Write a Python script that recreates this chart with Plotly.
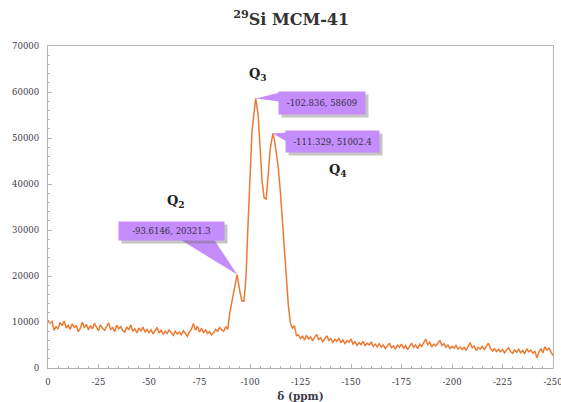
import numpy as np
import plotly.graph_objects as go

# Chemical shift grid (ppm), 1 ppm sampling with the three fitted peak maxima
shift = np.arange(0, -251, -1.0)
peak_shift = [-93.6146, -102.836, -111.329]
peak_intensity = [20321.3, 58609, 51002.4]
peak_index = [94, 103, 111]
for i, s in zip(peak_index, peak_shift):
    shift[i] = s

intensity = [
    10400, 9700, 10100, 8200, 9000, 8500, 9900, 9200, 10200, 8700,
    9300, 8400, 9600, 8800, 9300, 7900, 8600, 10000, 8700, 9500,
    8300, 9200, 8500, 9700, 8900, 8100, 9400, 8600, 8200, 9100,
    9800, 8400, 8800, 7900, 9300, 8500, 9000, 8200, 7800, 8900,
    8300, 9400, 8000, 8500, 7600, 8700, 8100, 8900, 7800, 8400,
    7700, 8300, 7400, 8100, 8800, 7600, 8200, 7300, 8000, 7500,
    8300, 7700, 7100, 8000, 7400, 7800, 7200, 8100, 7600, 6900,
    7800, 8400, 9700, 8200, 9100, 7800, 8600, 7700, 8300, 7500,
    7900, 7200, 7700, 8400, 8000, 8800, 8300, 8000, 9000, 8400,
    12000, 14300, 16800, 19600, 20321.3, 16600, 14600, 14500, 19500, 31000,
    43500, 51500, 55500, 58609, 55200, 47500, 40500, 37000, 36700, 42000,
    47600, 51002.4, 49800, 46800, 43500, 38500, 32000, 25000, 18700, 13500,
    9800, 8600, 9200, 7000, 7200, 6400, 6900, 6100, 7100, 6300,
    6800, 5900, 6700, 7300, 6200, 6600, 5700, 6500, 7000, 6000,
    6400, 5600, 6200, 5800, 6500, 5500, 6100, 5300, 5900, 5600,
    6300, 5200, 5700, 4900, 5500, 5100, 5800, 4800, 5400, 5000,
    5700, 4700, 5200, 4600, 5300, 4500, 5000, 4200, 4900, 5400,
    4400, 4800, 4100, 5000, 4500, 5200, 4300, 4900, 4000, 4600,
    5400, 4500, 5000, 4200, 5200, 4700, 5500, 6300, 5100, 5600,
    4600, 5200, 4800, 5500, 6000, 4900, 5300, 4500, 5000, 4200,
    4700, 4300, 4900, 4100, 4600, 4000, 4500, 3900, 4800, 5500,
    4400, 4800, 3800, 4500, 4100, 4700, 4000, 4600, 5400, 4300,
    3700, 4200, 3600, 4100, 3500, 4000, 3300, 3900, 4400, 3600,
    3200, 3900, 3400, 4100, 3300, 3800, 3100, 4200, 3500, 3900,
    3200, 3700, 2200, 3400, 4200, 3300, 4600, 3900, 4300, 3500,
    2700,
]

peak_labels = ["Q<sub>2</sub>", "Q<sub>3</sub>", "Q<sub>4</sub>"]
# label positions (ppm, intensity) for the Q-site names
label_shift = [-63.4, -103.9, -143.6]
label_intensity = [36300, 63700, 43000]

x_ticks = [0, -25, -50, -75, -100, -125, -150, -175, -200, -225, -250]

SERIF = "DejaVu Serif"
LINE = "#ec7a33"
CALLOUT = "#c58cfb"
SHADOW = "rgba(110,110,110,0.40)"
FRAME = "#b4b4b4"
TEXT = "#3a3a48"

fig = go.Figure()
fig.add_trace(go.Scatter(
    x=shift, y=intensity, mode="lines",
    line=dict(color=LINE, width=1.5),
    hoverinfo="skip", showlegend=False,
))

# callout boxes: box-centre offset and inner size in px, wedge points in screen px relative to the peak
callouts = [
    dict(ax=-66, ay=-44, w=97, h=10, pad=4, wedge=[(-57, -35), (-23, -35)]),
    dict(ax=66, ay=5, w=76, h=12, pad=5, wedge=[(24, -6), (24, 3)]),
    dict(ax=60, ay=8, w=83, h=11, pad=5, wedge=[(14, -1), (14, 8)]),
]

shapes = []
annotations = []
for px, py, c in zip(peak_shift, peak_intensity, callouts):
    pts = [(0, 0)] + c["wedge"]
    path = "M" + " L".join(f"{dx},{-dy}" for dx, dy in pts) + " Z"
    shapes.append(dict(
        type="path", path=path, xref="x", yref="y",
        xsizemode="pixel", ysizemode="pixel", xanchor=px, yanchor=py,
        fillcolor=CALLOUT, line=dict(width=0), layer="above",
    ))
    common = dict(
        x=px, y=py, xref="x", yref="y",
        showarrow=True, arrowcolor="rgba(0,0,0,0)", arrowwidth=0.1,
        ax=c["ax"], ay=c["ay"], width=c["w"], height=c["h"], borderpad=c["pad"],
    )
    # soft drop shadow behind each box
    annotations.append(dict(common, text="\u00a0", bgcolor=SHADOW,
                            font=dict(family=SERIF, size=8.5), xshift=3, yshift=-3))
    annotations.append(dict(common, text=f"{px:g}, {py:g}", bgcolor=CALLOUT,
                            font=dict(family=SERIF, size=8.5, color="#333344")))

for lab, lx, ly in zip(peak_labels, label_shift, label_intensity):
    annotations.append(dict(
        x=lx, y=ly, xref="x", yref="y", text=f"<b>{lab}</b>", showarrow=False,
        font=dict(family=SERIF, size=13, color="#222222"),
    ))

fig.update_layout(
    width=561, height=402,
    margin=dict(l=48, r=8, t=46, b=34),
    paper_bgcolor="white", plot_bgcolor="white",
    title=dict(
        text="<b><sup>29</sup>Si MCM-41</b>", x=0.519, xref="container", xanchor="center",
        y=0.952, yref="container", yanchor="middle",
        font=dict(family=SERIF, size=16, color="#333333"),
    ),
    shapes=shapes, annotations=annotations,
)

fig.update_xaxes(
    range=[0, -250], tickvals=x_ticks, ticktext=[f"{v}" for v in x_ticks],
    ticklabeloverflow="allow", automargin=False,
    showgrid=False, zeroline=False, showline=True, linecolor=FRAME, linewidth=1.3, mirror=True,
    ticks="inside", ticklen=4, tickcolor=FRAME,
    minor=dict(dtick=5, tick0=0, ticks="inside", ticklen=2, tickcolor=FRAME),
    tickfont=dict(family=SERIF, size=8.5, color=TEXT),
    ticklabelstandoff=6,
    title=dict(text="<b>δ (ppm)</b>", font=dict(family=SERIF, size=10.5, color=TEXT), standoff=6),
)
fig.update_yaxes(
    range=[0, 70000], dtick=10000, tick0=0, tickformat="d", automargin=False,
    showgrid=False, zeroline=False, showline=True, linecolor=FRAME, linewidth=1.3, mirror=True,
    ticks="inside", ticklen=4, tickcolor=FRAME,
    minor=dict(dtick=2000, ticks="inside", ticklen=2, tickcolor=FRAME),
    tickfont=dict(family=SERIF, size=8.5, color=TEXT),
    ticklabelstandoff=6,
)

fig.write_html("out.html")
